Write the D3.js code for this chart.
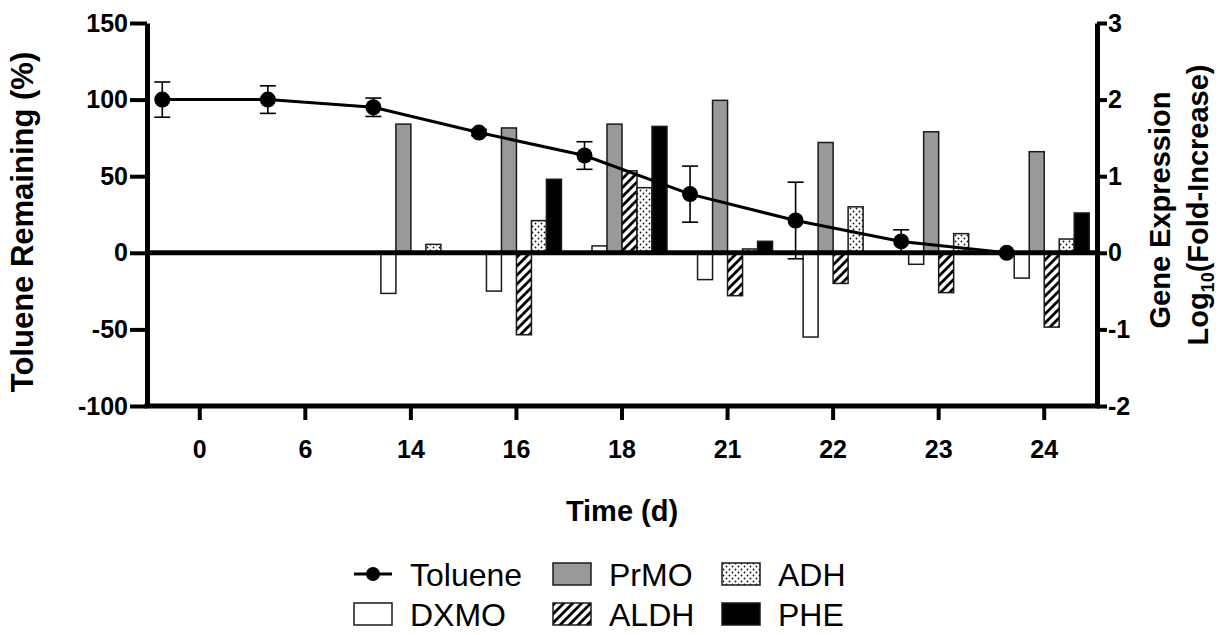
<!DOCTYPE html>
<html>
<head>
<meta charset="utf-8">
<script src="https://cdn.jsdelivr.net/npm/d3@7"></script>
<style>
  html, body { margin: 0; padding: 0; background: #fff; }
  svg { display: block; font-family: "Liberation Sans", Arial, Helvetica, sans-serif; }
</style>
</head>
<body>
<svg id="chart" width="1225" height="635"></svg>
<script>
// ---------------- DATA ----------------
const categories = ["0", "6", "14", "16", "18", "21", "22", "23", "24"];
const toluene    = [100, 100, 95, 78.5, 63.5, 38.3, 21.1, 7.4, 0];
const tolueneErr = [11.5, 9, 6, 2, 9, 18.3, 25, 7.6, 1];
const DXMO = [0, 0, -0.53, -0.50, 0.09, -0.35, -1.10, -0.15, -0.33];
const PrMO = [0, 0, 1.68, 1.63, 1.68, 1.99, 1.44, 1.58, 1.32];
const ALDH = [0, 0, 0, -1.07, 1.07, -0.56, -0.40, -0.52, -0.97];
const ADH  = [0, 0, 0.11, 0.42, 0.85, 0.05, 0.60, 0.25, 0.18];
const PHE  = [0, 0, 0, 0.96, 1.65, 0.15, 0, 0, 0.52];
const seriesNames = ["DXMO", "PrMO", "ALDH", "ADH", "PHE"];
const seriesValues = { DXMO, PrMO, ALDH, ADH, PHE };
const leftTicks = [-100, -50, 0, 50, 100, 150];
const rightTicks = [-2, -1, 0, 1, 2, 3];

// ---------------- SETUP ----------------
const svg = d3.select("#chart");
const FONT = '"Liberation Sans", Arial, Helvetica, sans-serif';
const L = 147, R = 1097, T = 23, B = 406;

const x = d3.scaleBand().domain(categories).range([L, R]).padding(0);
const inner = d3.scaleBand().domain(["Toluene"].concat(seriesNames)).range([-45, 45]);
const yL = d3.scaleLinear().domain([-100, 150]).range([B, T]);
const yR = d3.scaleLinear().domain([-2, 3]).range([B, T]);

const defs = svg.append("defs");
const hatch = defs.append("pattern").attr("id", "hatch").attr("patternUnits", "userSpaceOnUse")
  .attr("width", 9).attr("height", 9);
hatch.append("rect").attr("width", 9).attr("height", 9).attr("fill", "#fff");
hatch.append("path").attr("d", "M-2,2 L2,-2 M0,9 L9,0 M7,11 L11,7")
  .attr("stroke", "#000").attr("stroke-width", 2.8);

const dots = defs.append("pattern").attr("id", "dots").attr("patternUnits", "userSpaceOnUse")
  .attr("width", 6).attr("height", 6);
dots.append("rect").attr("width", 6).attr("height", 6).attr("fill", "#fff");
dots.append("circle").attr("cx", 1.5).attr("cy", 1.5).attr("r", 0.9).attr("fill", "#111");
dots.append("circle").attr("cx", 4.5).attr("cy", 4.5).attr("r", 0.9).attr("fill", "#111");

const fills = { DXMO: "#fff", PrMO: "#999", ALDH: "url(#hatch)", ADH: "url(#dots)", PHE: "#000" };

// ---------------- BARS ----------------
const barData = [];
categories.forEach((c, i) => {
  seriesNames.forEach(s => {
    const v = seriesValues[s][i];
    if (v !== 0) barData.push({ c, s, v });
  });
});
svg.append("g").selectAll("rect").data(barData).join("rect")
  .attr("x", d => x(d.c) + x.bandwidth() / 2 + inner(d.s))
  .attr("width", inner.bandwidth())
  .attr("y", d => Math.min(yR(0), yR(d.v)))
  .attr("height", d => Math.abs(yR(d.v) - yR(0)))
  .attr("fill", d => fills[d.s])
  .attr("stroke", "#1a1a1a").attr("stroke-width", 1.5);

// ---------------- AXES ----------------
const fmt = d => String(d);
function styleAxis(g, w) {
  g.select(".domain").attr("stroke", "#000").attr("stroke-width", w);
  g.selectAll(".tick line").attr("stroke", "#000").attr("stroke-width", 4);
  g.selectAll(".tick text").attr("fill", "#000").attr("font-family", FONT)
    .attr("font-weight", "bold").attr("font-size", 25);
}
const gl = svg.append("g").attr("transform", `translate(${L},0)`)
  .call(d3.axisLeft(yL).tickValues(leftTicks).tickFormat(fmt).tickSize(17).tickSizeOuter(0).tickPadding(2));
styleAxis(gl, 5);
const gr = svg.append("g").attr("transform", `translate(${R},0)`)
  .call(d3.axisRight(yR).tickValues(rightTicks).tickFormat(fmt).tickSize(10).tickSizeOuter(0).tickPadding(1));
styleAxis(gr, 5);
const gb = svg.append("g").attr("transform", `translate(0,${B})`)
  .call(d3.axisBottom(x).tickSize(14).tickSizeOuter(0).tickPadding(20));
styleAxis(gb, 5);
gb.select(".domain").attr("d", `M${L - 2.5},0H${R + 2.5}`);

// zero line
svg.append("line").attr("x1", L).attr("x2", R).attr("y1", yL(0)).attr("y2", yL(0))
  .attr("stroke", "#000").attr("stroke-width", 5);

// ---------------- TOLUENE LINE ----------------
const tol = categories.map((c, i) => ({
  x: x(c) + x.bandwidth() / 2 + inner("Toluene") + inner.bandwidth() / 2,
  v: toluene[i], e: tolueneErr[i]
}));
const eg = svg.append("g").attr("stroke", "#000").attr("stroke-width", 1.6);
tol.forEach(d => {
  eg.append("line").attr("x1", d.x).attr("x2", d.x).attr("y1", yL(d.v + d.e)).attr("y2", yL(d.v - d.e));
  [d.v + d.e, d.v - d.e].forEach(v =>
    eg.append("line").attr("x1", d.x - 8).attr("x2", d.x + 8).attr("y1", yL(v)).attr("y2", yL(v)));
});
svg.append("path").datum(tol)
  .attr("d", d3.line().x(d => d.x).y(d => yL(d.v)))
  .attr("fill", "none").attr("stroke", "#000").attr("stroke-width", 3);
svg.append("g").selectAll("circle").data(tol).join("circle")
  .attr("cx", d => d.x).attr("cy", d => yL(d.v)).attr("r", 8).attr("fill", "#000");

// ---------------- TITLES ----------------
svg.append("text").attr("transform", `translate(33,222) rotate(-90)`)
  .attr("text-anchor", "middle").attr("font-weight", "bold").attr("font-size", 31)
  .text("Toluene Remaining (%)");
svg.append("text").attr("x", (L + R) / 2).attr("y", 521)
  .attr("text-anchor", "middle").attr("font-weight", "bold").attr("font-size", 29)
  .text("Time (d)");
svg.append("text").attr("transform", `translate(1170,210) rotate(-90)`)
  .attr("text-anchor", "middle").attr("font-weight", "bold").attr("font-size", 29)
  .text("Gene Expression");
const t2 = svg.append("text").attr("transform", `translate(1208,205) rotate(-90)`)
  .attr("text-anchor", "middle").attr("font-weight", "bold").attr("font-size", 29);
t2.append("tspan").text("Log");
t2.append("tspan").attr("font-size", 18).attr("dy", 6).text("10");
t2.append("tspan").attr("dy", -6).text("(Fold-Increase)");

// ---------------- LEGEND ----------------
const legendItems = [
  { name: "Toluene", type: "line", col: 0, row: 0 },
  { name: "PrMO", type: "PrMO", col: 1, row: 0 },
  { name: "ADH", type: "ADH", col: 2, row: 0 },
  { name: "DXMO", type: "DXMO", col: 0, row: 1 },
  { name: "ALDH", type: "ALDH", col: 1, row: 1 },
  { name: "PHE", type: "PHE", col: 2, row: 1 }
];
const colX = [354, 553, 722], rowY = [574, 614];
legendItems.forEach(it => {
  const g = svg.append("g").attr("transform", `translate(${colX[it.col]},${rowY[it.row]})`);
  if (it.type === "line") {
    g.append("line").attr("x1", 0).attr("x2", 38).attr("stroke", "#000").attr("stroke-width", 3);
    g.append("circle").attr("cx", 19).attr("r", 7).attr("fill", "#000");
  } else {
    g.append("rect").attr("x", 0).attr("y", -11).attr("width", 38).attr("height", 22)
      .attr("fill", fills[it.type]).attr("stroke", "#1a1a1a").attr("stroke-width", 1.5);
  }
  g.append("text").attr("x", 56).attr("dy", "0.36em").attr("font-size", 32).attr("fill", "#000")
    .text(it.name);
});
</script>
</body>
</html>
